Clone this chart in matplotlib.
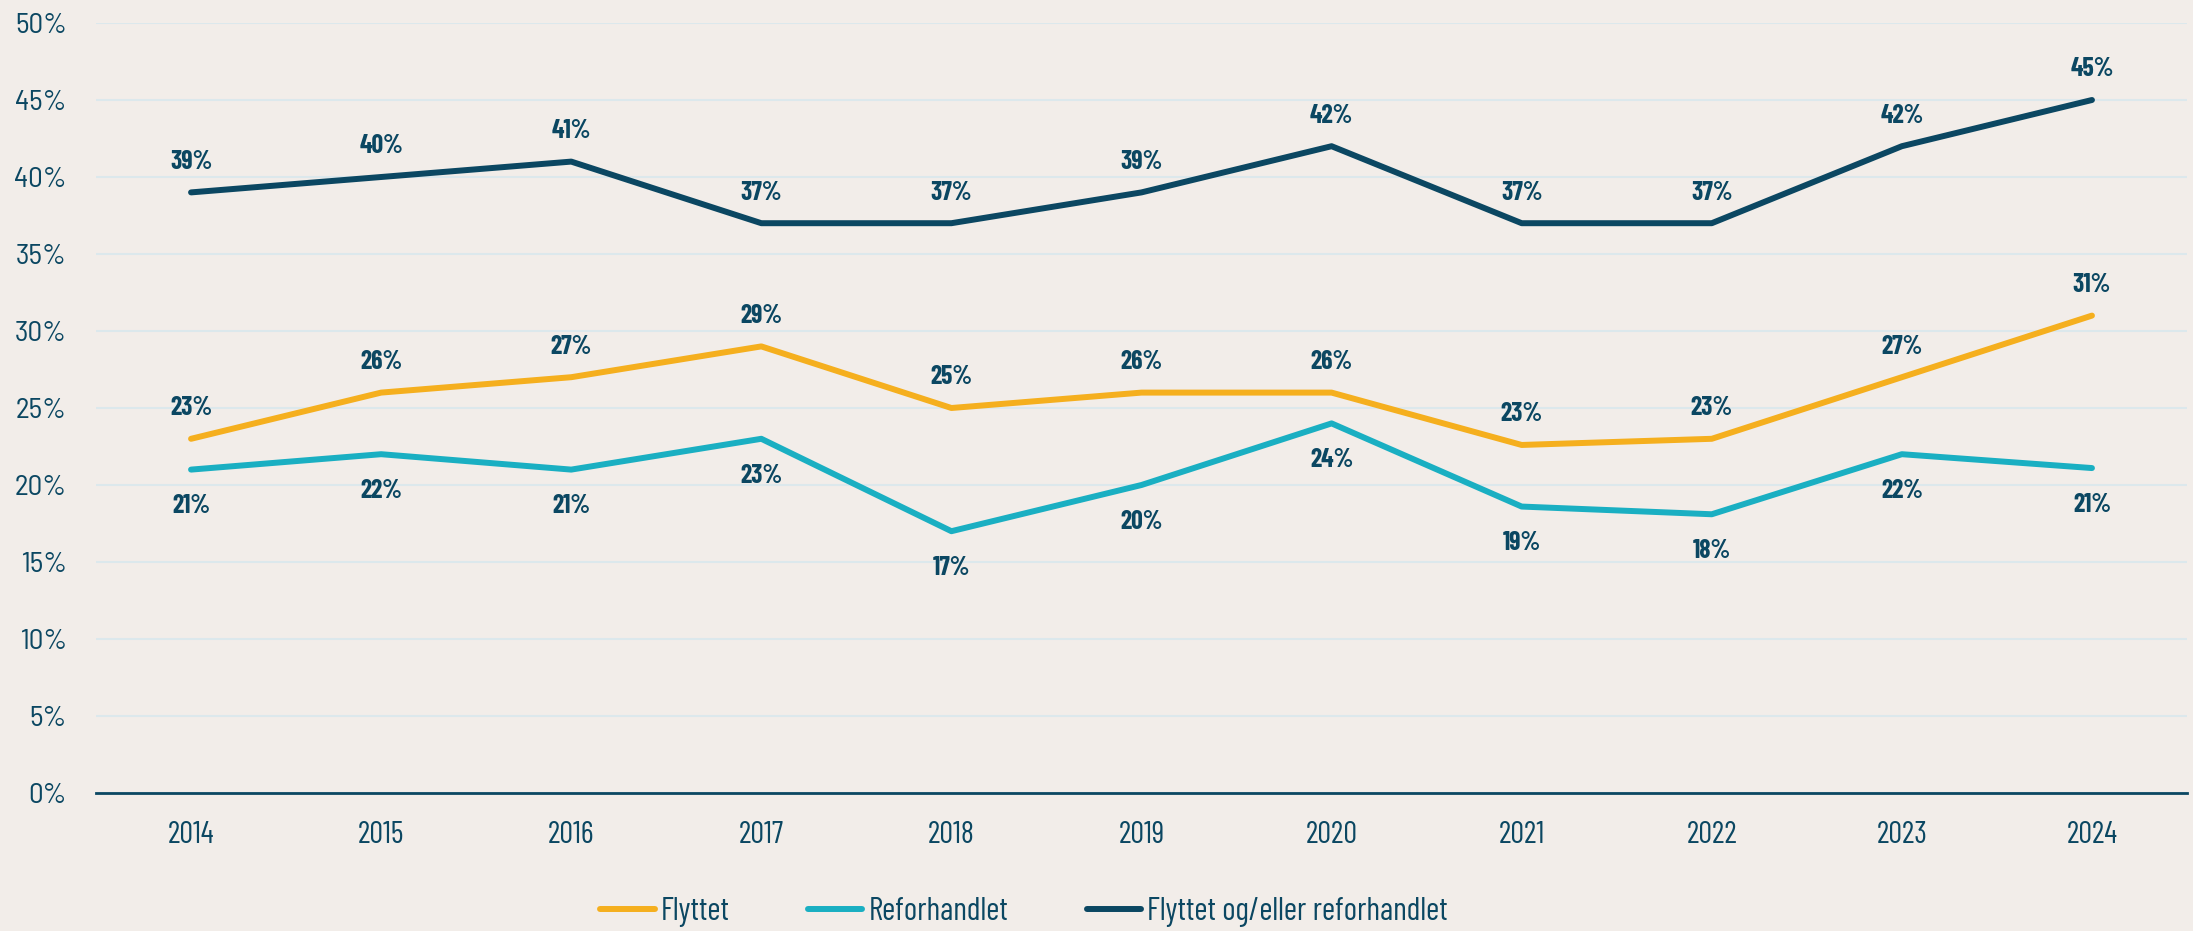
import numpy as np
import matplotlib
matplotlib.use("Agg")
from matplotlib import pyplot as plt

years = ["2014", "2015", "2016", "2017", "2018", "2019", "2020", "2021", "2022", "2023", "2024"]
flyttet = [23, 26, 27, 29, 25, 26, 26, 22.6, 23, 27, 31]
reforhandlet = [21, 22, 21, 23, 17, 20, 24, 18.6, 18.1, 22, 21.1]
begge = [39, 40, 41, 37, 37, 39, 42, 37, 37, 42, 45]
yticks = [0, 5, 10, 15, 20, 25, 30, 35, 40, 45, 50]

plt.rcParams["font.family"] = ["Barlow Condensed", "DejaVu Sans"]

bg = "#F2EDE9"
navy = "#0B4762"
orange = "#F5AF1E"
teal = "#1AAFC2"

fig = plt.figure(figsize=(21.93, 9.31), dpi=100, facecolor=bg)
ax = fig.add_axes([96 / 2193, 138 / 931, (2187 - 96) / 2193, 770 / 931])
ax.set_facecolor(bg)

x = np.arange(len(years))
l1, = ax.plot(x, flyttet, color=orange, lw=4.3, solid_capstyle="round", label="Flyttet")
l2, = ax.plot(x, reforhandlet, color=teal, lw=4.3, solid_capstyle="round", label="Reforhandlet")
l3, = ax.plot(x, begge, color=navy, lw=4.3, solid_capstyle="round", label="Flyttet og/eller reforhandlet")

# Dataetiketter
lab = dict(ha="center", va="center", fontsize=18.5, fontweight="bold", color=navy,
           textcoords="offset points")
for xi, v in zip(x, flyttet):
    ax.annotate(f"{v:.0f}%", (xi, v), xytext=(0, 22), **lab)
for xi, v in zip(x, begge):
    ax.annotate(f"{v:.0f}%", (xi, v), xytext=(0, 22), **lab)
for xi, v in zip(x, reforhandlet):
    ax.annotate(f"{v:.0f}%", (xi, v), xytext=(0, -26.5), **lab)

ax.set_xlim(-0.5, len(years) - 0.5)
ax.set_ylim(0, 50)
ax.set_xticks(x)
ax.set_xticklabels(years, fontsize=22)
ax.set_yticks(yticks)
ax.set_yticklabels([f"{t}%" for t in yticks], fontsize=21, family="Barlow Semi Condensed",
                   fontweight=400)
ax.tick_params(axis="both", length=0, colors=navy)
ax.tick_params(axis="y", pad=21)
ax.tick_params(axis="x", pad=20)
ax.grid(axis="y", color="#DCE8EC", lw=1.5)
ax.set_axisbelow(True)
for s in ["top", "right", "left"]:
    ax.spines[s].set_visible(False)
ax.spines["bottom"].set_color(navy)
ax.spines["bottom"].set_linewidth(2)
ax.spines["bottom"].set_zorder(3)

leg = fig.legend(handles=[l1, l2, l3], loc="center", bbox_to_anchor=(0.467, 0.02),
                 ncol=3, frameon=False, fontsize=23, handlelength=1.7,
                 handletextpad=0.2, columnspacing=2.45, labelcolor=navy)

fig.savefig("out.png", dpi=100, facecolor=bg)
